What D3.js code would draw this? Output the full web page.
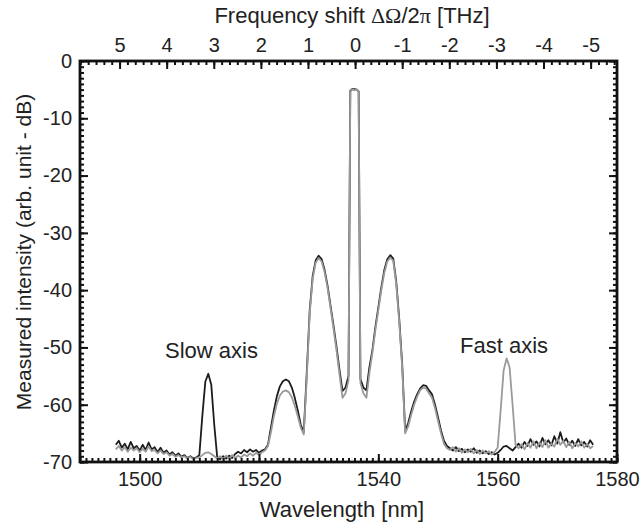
<!DOCTYPE html>
<html>
<head>
<meta charset="utf-8">
<script src="https://cdn.jsdelivr.net/npm/d3@7/dist/d3.min.js"></script>
<style>
body { margin: 0; background: #fff; }
text { font-family: "Liberation Sans", Arial, sans-serif; font-size: 22px; fill: #222; }
.axis path { display: none; }
.axis line { stroke: #111; stroke-width: 2px; }
</style>
</head>
<body>
<div class="container"></div>
<script>
// wavelength grid in nm (finer around the pump)
var wavelength = [
    1496.0, 1496.5, 1497.0, 1497.5, 1498.0, 1498.5, 1499.0, 1499.5, 1500.0, 1500.5,
    1501.0, 1501.5, 1502.0, 1502.5, 1503.0, 1503.5, 1504.0, 1504.5, 1505.0, 1505.5,
    1506.0, 1506.5, 1507.0, 1507.5, 1508.0, 1508.5, 1509.0, 1509.5, 1510.0, 1510.5,
    1511.0, 1511.5, 1512.0, 1512.5, 1513.0, 1513.5, 1514.0, 1514.5, 1515.0, 1515.5,
    1516.0, 1516.5, 1517.0, 1517.5, 1518.0, 1518.5, 1519.0, 1519.5, 1520.0, 1520.5,
    1521.0, 1521.5, 1522.0, 1522.5, 1523.0, 1523.5, 1524.0, 1524.5, 1525.0, 1525.5,
    1526.0, 1526.5, 1527.0, 1527.5, 1528.0, 1528.5, 1529.0, 1529.5, 1530.0, 1530.5,
    1531.0, 1531.5, 1532.0, 1532.5, 1533.0, 1533.5, 1534.0, 1534.5, 1535.0,
    1535.3, 1535.6, 1536.0, 1536.4, 1536.7,
    1537.0, 1537.5, 1538.0, 1538.5, 1539.0, 1539.5, 1540.0, 1540.5, 1541.0, 1541.5,
    1542.0, 1542.5, 1543.0, 1543.5, 1544.0, 1544.5, 1545.0, 1545.5, 1546.0, 1546.5,
    1547.0, 1547.5, 1548.0, 1548.5, 1549.0, 1549.5, 1550.0, 1550.5, 1551.0, 1551.5,
    1552.0, 1552.5, 1553.0, 1553.5, 1554.0, 1554.5, 1555.0, 1555.5, 1556.0, 1556.5,
    1557.0, 1557.5, 1558.0, 1558.5, 1559.0, 1559.5, 1560.0, 1560.5, 1561.0, 1561.5,
    1562.0, 1562.5, 1563.0, 1563.5, 1564.0, 1564.5, 1565.0, 1565.5, 1566.0, 1566.5,
    1567.0, 1567.5, 1568.0, 1568.5, 1569.0, 1569.5, 1570.0, 1570.5, 1571.0, 1571.5,
    1572.0, 1572.5, 1573.0, 1573.5, 1574.0, 1574.5, 1575.0, 1575.5, 1576.0
];

// pump on the slow axis (black trace), dB
var slowPump = [
    -67.0, -66.3, -67.5, -66.8, -67.8, -66.5, -67.6, -67.2, -68.0, -67.0,
    -67.9, -66.6, -67.8, -67.4, -68.3, -67.5, -68.4, -68.0, -68.7, -68.3,
    -68.9, -68.5, -69.1, -68.8, -69.3, -69.0, -69.4, -69.2, -68.8, -62.0,
    -56.0, -54.6, -56.5, -63.5, -69.2, -69.5, -69.0, -69.4, -68.9, -69.3,
    -68.6, -68.2, -68.5, -67.9, -68.3, -67.8, -68.2, -67.9, -68.4, -68.0,
    -67.8, -67.0, -64.0, -61.0, -58.5, -56.8, -55.9, -55.6, -55.9, -57.0,
    -58.8, -61.0, -63.5, -64.8, -54.5, -43.5, -37.5, -34.8, -34.0, -34.6,
    -36.5, -39.3, -42.8, -46.3, -50.0, -54.0, -57.6, -57.0, -55.0,
    -5.2, -4.9, -4.9, -5.0, -5.3,
    -55.5, -57.0, -57.5, -53.5, -50.5, -46.5, -43.0, -39.5, -36.5, -34.6,
    -33.9, -34.5, -38.5, -45.0, -53.0, -64.6, -63.2, -61.2, -59.5, -58.2,
    -57.2, -56.6, -56.7, -57.5, -58.2, -60.0, -62.2, -64.5, -66.3, -67.2,
    -67.6, -68.0, -67.4, -68.1, -67.7, -68.3, -67.8, -68.2, -67.6, -68.4,
    -68.0, -68.5, -68.1, -68.6, -68.3, -68.7, -68.4, -67.9, -67.3, -67.2,
    -67.6, -68.0, -67.4, -66.8, -67.5, -66.5, -67.2, -66.0, -67.0, -66.4,
    -67.3, -65.8, -66.9, -66.2, -67.1, -65.5, -66.8, -64.8, -66.6, -65.9,
    -67.0, -66.3, -67.2, -66.0, -67.1, -66.5, -67.3, -66.2, -67.0
];

// pump on the fast axis (grey trace), dB
var fastPump = [
    -67.8, -67.2, -68.0, -67.4, -68.2, -67.5, -68.0, -67.6, -68.3, -67.7,
    -68.2, -67.3, -68.1, -67.9, -68.5, -68.0, -68.6, -68.3, -68.9, -68.6,
    -69.1, -68.8, -69.2, -69.0, -69.4, -69.1, -69.5, -69.3, -69.2, -68.8,
    -68.4, -68.3, -68.6, -69.0, -69.4, -69.0, -69.5, -68.9, -69.4, -68.8,
    -69.3, -68.9, -69.2, -68.7, -69.0, -68.5, -68.9, -68.4, -68.8, -68.3,
    -68.0, -67.2, -64.8, -62.0, -59.8, -58.4, -57.7, -57.5, -57.8, -58.7,
    -60.2, -62.0, -64.0, -65.2, -55.5, -44.0, -38.0, -35.2, -34.4, -35.0,
    -36.9, -39.7, -43.2, -46.8, -50.6, -54.8, -58.8, -58.0, -55.8,
    -5.4, -5.0, -5.1, -5.0, -5.4,
    -56.2, -58.0, -58.8, -54.5, -51.0, -47.0, -43.5, -40.0, -37.0, -35.0,
    -34.3, -34.9, -39.0, -45.5, -53.5, -65.0, -63.8, -61.8, -60.0, -58.6,
    -57.5, -57.0, -57.2, -58.0, -58.8, -60.6, -62.8, -65.0, -66.8, -67.6,
    -67.9, -67.4, -68.2, -67.6, -68.4, -67.8, -68.3, -67.7, -68.5, -67.9,
    -68.6, -68.0, -68.5, -68.1, -68.7, -68.2, -67.5, -61.0, -54.0, -51.9,
    -53.5, -60.0, -67.0, -67.6, -66.9, -67.8, -66.7, -67.5, -66.4, -67.6,
    -66.6, -67.4, -66.2, -67.5, -66.8, -67.3, -65.9, -67.0, -66.3, -67.4,
    -66.5, -67.6, -66.7, -67.3, -66.4, -67.5, -66.8, -67.6, -67.2
];

var wavelengthTicks = [1500, 1520, 1540, 1560, 1580];
var intensityTicks = [0, -10, -20, -30, -40, -50, -60, -70];
var shiftTicks = [5, 4, 3, 2, 1, 0, -1, -2, -3, -4, -5];

var WIDTH = 642, HEIGHT = 529;
var LEFT = 80, TOP = 61, RIGHT = 617, BOTTOM = 462;

var xScale = d3.scaleLinear().domain([1490, 1580]).range([LEFT, RIGHT]);
var yScale = d3.scaleLinear().domain([0, -70]).range([TOP, BOTTOM]);
// frequency shift axis, 0 THz at the pump
var fScale = d3.scaleLinear().domain([5.84, -5.56]).range([LEFT, RIGHT]);

var translate = function (x, y) {
    return 'translate(' + x + ',' + y + ')';
};

var isVertical = function (axisType) {
    return axisType === d3.axisLeft || axisType === d3.axisRight;
};

var addTicks = function (svg, axisType, scale, pos, values, size) {
    svg.append('g')
        .classed('axis', true)
        .attr('transform', isVertical(axisType) ? translate(pos, 0) : translate(0, pos))
        .call(axisType(scale).tickValues(values).tickSize(size).tickFormat(''));
};

var addLabels = function (svg, axisType, scale, pos, values, padding) {
    var g = svg.append('g')
        .classed('axis', true)
        .attr('transform', isVertical(axisType) ? translate(pos, 0) : translate(0, pos))
        .call(axisType(scale).tickValues(values).tickSize(0).tickPadding(padding)
            .tickFormat(function (d) { return String(d); }));
    g.attr('font-family', null).attr('font-size', null);
    g.selectAll('text').style('font-size', '20px').attr('fill', '#222');
};

var drawSpectrum = function (svg, values, colour) {
    var line = d3.line()
        .x(function (d, i) { return xScale(wavelength[i]); })
        .y(function (d) { return yScale(d); });
    svg.append('path')
        .datum(values)
        .attr('d', line)
        .attr('fill', 'none')
        .attr('stroke', colour)
        .attr('stroke-width', 1.8)
        .attr('stroke-linejoin', 'round');
};

var visualize = function () {
    var svg = d3.select('.container').append('svg')
        .attr('width', WIDTH)
        .attr('height', HEIGHT);

    drawSpectrum(svg, slowPump, '#1c1c1c');
    drawSpectrum(svg, fastPump, '#9a9a9a');

    // inward ticks on all four sides
    var minorX = d3.range(1490, 1581, 1);
    var minorY = d3.range(0, -71, -1);
    var minorF = d3.range(-5.5, 5.84, 1 / 6);
    addTicks(svg, d3.axisBottom, xScale, BOTTOM, minorX, -4);
    addTicks(svg, d3.axisBottom, xScale, BOTTOM, wavelengthTicks, -8);
    addTicks(svg, d3.axisTop, fScale, TOP, minorF, -4);
    addTicks(svg, d3.axisTop, fScale, TOP, shiftTicks, -8);
    addTicks(svg, d3.axisLeft, yScale, LEFT, minorY, -4);
    addTicks(svg, d3.axisLeft, yScale, LEFT, intensityTicks, -8);
    addTicks(svg, d3.axisRight, yScale, RIGHT, minorY, -4);
    addTicks(svg, d3.axisRight, yScale, RIGHT, intensityTicks, -8);

    svg.append('rect')
        .attr('x', LEFT)
        .attr('y', TOP)
        .attr('width', RIGHT - LEFT)
        .attr('height', BOTTOM - TOP)
        .attr('fill', 'none')
        .attr('stroke', '#111')
        .attr('stroke-width', 2.8);

    addLabels(svg, d3.axisBottom, xScale, BOTTOM, wavelengthTicks, 10);
    addLabels(svg, d3.axisTop, fScale, TOP, shiftTicks, 9);
    addLabels(svg, d3.axisLeft, yScale, LEFT, intensityTicks, 8);

    svg.append('text')
        .attr('x', 342)
        .attr('y', 517)
        .attr('text-anchor', 'middle')
        .text('Wavelength [nm]');

    var title = svg.append('text')
        .attr('x', 352)
        .attr('y', 23)
        .attr('text-anchor', 'middle');
    title.append('tspan').text('Frequency shift ');
    title.append('tspan').style('font-family', '"Liberation Serif", serif').text('\u0394\u03A9');
    title.append('tspan').text('/2');
    title.append('tspan').style('font-family', '"Liberation Serif", serif').text('\u03C0');
    title.append('tspan').text(' [THz]');

    svg.append('text')
        .attr('transform', translate(31, 252) + ' rotate(-90)')
        .attr('text-anchor', 'middle')
        .style('font-size', '21px')
        .text('Measured intensity (arb. unit - dB)');

    svg.append('text')
        .attr('x', 165)
        .attr('y', 358)
        .text('Slow axis');
    svg.append('text')
        .attr('x', 460)
        .attr('y', 353)
        .text('Fast axis');
};

window.onload = visualize;
</script>
</body>
</html>
